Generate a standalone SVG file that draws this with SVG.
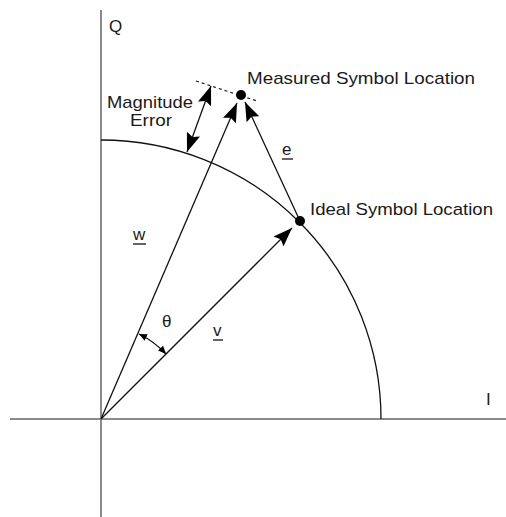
<svg xmlns="http://www.w3.org/2000/svg" width="506" height="517" viewBox="0 0 506 517">
<style>
.axis{stroke:#8a8a8a;stroke-width:2;fill:none}
.ln{stroke:#111;stroke-width:1.3;fill:none}
.t{font-family:"Liberation Sans",Arial,sans-serif;fill:#1a1a1a;font-size:17px}
</style>
<defs>
<marker id="ah" markerUnits="userSpaceOnUse" markerWidth="20" markerHeight="14" viewBox="0 0 20 14" refX="19" refY="7" orient="auto-start-reverse">
<path d="M0,0 L19,7 L0,14 L3,7 z" fill="#000"/>
</marker>
<marker id="sa" markerUnits="userSpaceOnUse" markerWidth="8" markerHeight="7" viewBox="0 0 8 7" refX="8" refY="3.5" orient="auto-start-reverse">
<path d="M0,0 L8,3.5 L0,7 z" fill="#000"/>
</marker>
</defs>
<g id="axes">
<line class="axis" x1="101" y1="10" x2="101" y2="517"/>
<line class="axis" x1="10" y1="419" x2="506" y2="419"/>
<text class="t" x="109" y="32">Q</text>
<text class="t" x="486" y="405" font-size="18">I</text>
</g>
<g id="circle">
<path class="ln" d="M101,140 A280,279 0 0 1 381,419"/>
</g>
<g id="connectors">
<line class="ln" x1="101" y1="419" x2="237" y2="103" marker-end="url(#ah)"/>
<line class="ln" x1="101" y1="419" x2="292" y2="228" marker-end="url(#ah)"/>
<line class="ln" x1="300" y1="221" x2="245" y2="102" marker-end="url(#ah)"/>
<line class="ln" x1="211" y1="86" x2="187" y2="152" marker-start="url(#ah)" marker-end="url(#ah)"/>
<line x1="196" y1="81" x2="257" y2="101" stroke="#222" stroke-width="1.2" stroke-dasharray="3,3"/>
<path class="ln" d="M139,334 A92,92 0 0 1 166,354" marker-start="url(#sa)" marker-end="url(#sa)"/>
</g>
<g id="measured">
<circle cx="241" cy="95" r="5" fill="#000"/>
<text class="t" x="247" y="84" textLength="228" lengthAdjust="spacingAndGlyphs">Measured Symbol Location</text>
</g>
<g id="ideal">
<circle cx="300" cy="221" r="5" fill="#000"/>
<text class="t" x="310" y="215" textLength="183" lengthAdjust="spacingAndGlyphs">Ideal Symbol Location</text>
</g>
<g id="magnitude-error">
<text class="t" x="107" y="108" font-size="15" textLength="86" lengthAdjust="spacingAndGlyphs">Magnitude</text>
<text class="t" x="130" y="126" font-size="15" textLength="42" lengthAdjust="spacingAndGlyphs">Error</text>
</g>
<g id="labels">
<text class="t" x="133" y="240" font-size="16">w</text>
<line class="ln" x1="133" y1="244" x2="146" y2="244"/>
<text class="t" x="213" y="336" font-size="16">v</text>
<line class="ln" x1="213" y1="340" x2="223" y2="340"/>
<text class="t" x="282" y="155" font-size="16">e</text>
<line class="ln" x1="282" y1="159" x2="293" y2="159"/>
<text class="t" x="162" y="327" font-size="17">θ</text>
</g>
</svg>
